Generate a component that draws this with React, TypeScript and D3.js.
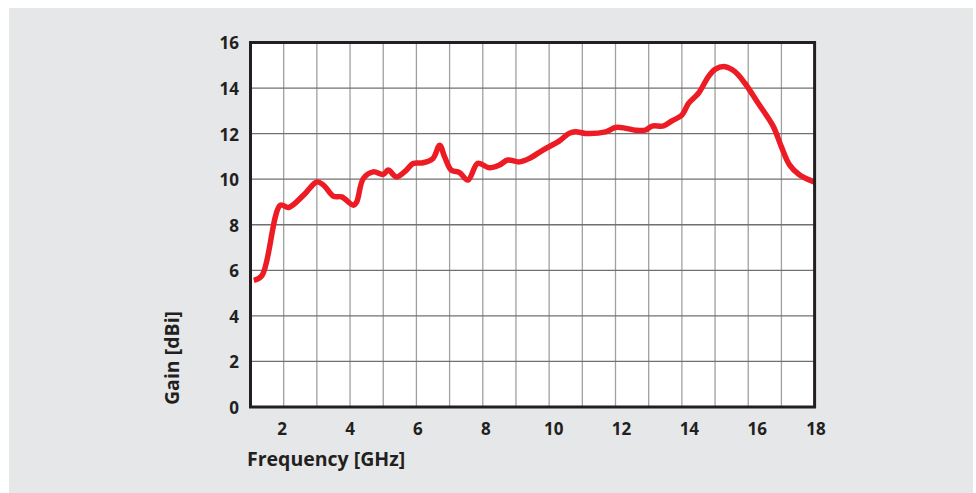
import React, { useEffect, useRef } from "react";
import * as d3 from "d3";

// frequency (GHz) and gain (dBi)
const freqGHz = [
    1.1, 1.35, 1.9, 2.15, 2.6, 3.0, 3.2, 3.5, 3.75, 4.1, 4.2, 4.4, 4.7, 5.0, 5.15, 5.4, 5.7, 5.9,
    6.2, 6.5, 6.7, 6.85, 7.05, 7.3, 7.55, 7.85, 8.2, 8.5, 8.75, 9.1, 9.4, 9.8, 10.3, 10.6, 10.8,
    11.1, 11.7, 12.0, 12.3, 12.6, 12.9, 13.1, 13.45, 13.7, 14.0, 14.2, 14.5, 14.8, 15.0, 15.3,
    15.6, 15.9, 16.3, 16.75, 17.0, 17.25, 17.55, 17.9, 18.0
];
const gainDBi = [
    5.56, 5.78, 8.86, 8.76, 9.3, 9.88, 9.74, 9.25, 9.22, 8.86, 9.0, 10.03, 10.32, 10.21, 10.4,
    10.1, 10.4, 10.69, 10.72, 10.91, 11.49, 10.98, 10.4, 10.29, 9.96, 10.69, 10.5, 10.62, 10.84,
    10.76, 10.91, 11.27, 11.67, 12.01, 12.08, 12.01, 12.08, 12.27, 12.24, 12.15, 12.15, 12.33,
    12.34, 12.56, 12.81, 13.33, 13.77, 14.5, 14.82, 14.94, 14.72, 14.21, 13.33, 12.33, 11.42,
    10.62, 10.18, 9.93, 9.87
];

const xTickLabels = [2, 4, 6, 8, 10, 12, 14, 16, 18];
const yTickLabels = [0, 2, 4, 6, 8, 10, 12, 14, 16];

const WIDTH = 976;
const HEIGHT = 493;
const FONT = "'Open Sans', 'DejaVu Sans', sans-serif";
const INK = "#231f20";

function GainChart() {
    const svgRef = useRef(null);

    useEffect(() => {
        const svg = d3.select(svgRef.current);
        svg.selectAll("*").remove();

        const x = d3.scaleLinear().domain([1, 18]).range([250.5, 814.6]);
        const y = d3.scaleLinear().domain([0, 16]).range([407, 42.5]);

        // grey backdrop
        svg.append("rect")
            .attr("x", 9).attr("y", 8)
            .attr("width", WIDTH - 12).attr("height", HEIGHT - 8)
            .attr("fill", "#e6e7e8");

        // plot area
        svg.append("rect")
            .attr("x", x(1)).attr("y", y(16))
            .attr("width", x(18) - x(1)).attr("height", y(0) - y(16))
            .attr("fill", "#fff");

        // vertical grid every 1 GHz
        svg.append("g")
            .selectAll("line")
            .data(d3.range(2, 18))
            .join("line")
            .attr("x1", d => x(d)).attr("x2", d => x(d))
            .attr("y1", y(16)).attr("y2", y(0))
            .attr("stroke", "#a0a0a0")
            .attr("stroke-width", 1.3);

        // horizontal grid every 2 dBi
        svg.append("g")
            .selectAll("line")
            .data(yTickLabels.filter(v => v > 0 && v < 16))
            .join("line")
            .attr("x1", x(1)).attr("x2", x(18))
            .attr("y1", d => y(d)).attr("y2", d => y(d))
            .attr("stroke", "#707070")
            .attr("stroke-width", 1.3);

        // gain curve
        const pts = freqGHz.map((f, i) => [f, gainDBi[i]] as [number, number]);
        const line = d3.line<[number, number]>()
            .x(d => x(d[0]))
            .y(d => y(d[1]))
            .curve(d3.curveCatmullRom.alpha(0.5));

        svg.append("path")
            .datum(pts)
            .attr("d", line)
            .attr("fill", "none")
            .attr("stroke", "#ed1c24")
            .attr("stroke-width", 5.5)
            .attr("stroke-linejoin", "round")
            .attr("stroke-linecap", "butt");

        // frame
        svg.append("rect")
            .attr("x", x(1)).attr("y", y(16))
            .attr("width", x(18) - x(1)).attr("height", y(0) - y(16))
            .attr("fill", "none")
            .attr("stroke", INK)
            .attr("stroke-width", 3);

        // x tick labels (the original labels drift a bit right of the grid)
        const labelX = d3.scaleLinear().domain([2, 16]).range([x(2) - 1.5, x(16) + 9]);
        svg.append("g")
            .selectAll("text")
            .data(xTickLabels)
            .join("text")
            .attr("x", d => (d === 18 ? x(18) + 1.5 : labelX(d)))
            .attr("y", 435)
            .attr("text-anchor", "middle")
            .attr("fill", INK)
            .style("font-family", FONT)
            .style("font-weight", 700)
            .style("font-size", "17px")
            .text(d => d);

        // y tick labels
        svg.append("g")
            .selectAll("text")
            .data(yTickLabels)
            .join("text")
            .attr("x", 239)
            .attr("y", d => y(d) + 1)
            .attr("dy", "0.35em")
            .attr("text-anchor", "end")
            .attr("fill", INK)
            .style("font-family", FONT)
            .style("font-weight", 700)
            .style("font-size", "17px")
            .text(d => d);

        // axis titles
        svg.append("text")
            .attr("x", 247)
            .attr("y", 466)
            .attr("fill", INK)
            .style("font-family", FONT)
            .style("font-weight", 700)
            .style("font-size", "19.5px")
            .text("Frequency [GHz]");

        svg.append("text")
            .attr("transform", "translate(179,405) rotate(-90)")
            .attr("fill", INK)
            .style("font-family", FONT)
            .style("font-weight", 700)
            .style("font-size", "19.5px")
            .text("Gain [dBi]");
    }, []);

    return (
        <svg
            ref={svgRef}
            width={WIDTH}
            height={HEIGHT}
            style={{ position: "absolute", left: 0, top: 0, background: "#fff" }}
        />
    );
}

export default function App() {
    return <GainChart />;
}
